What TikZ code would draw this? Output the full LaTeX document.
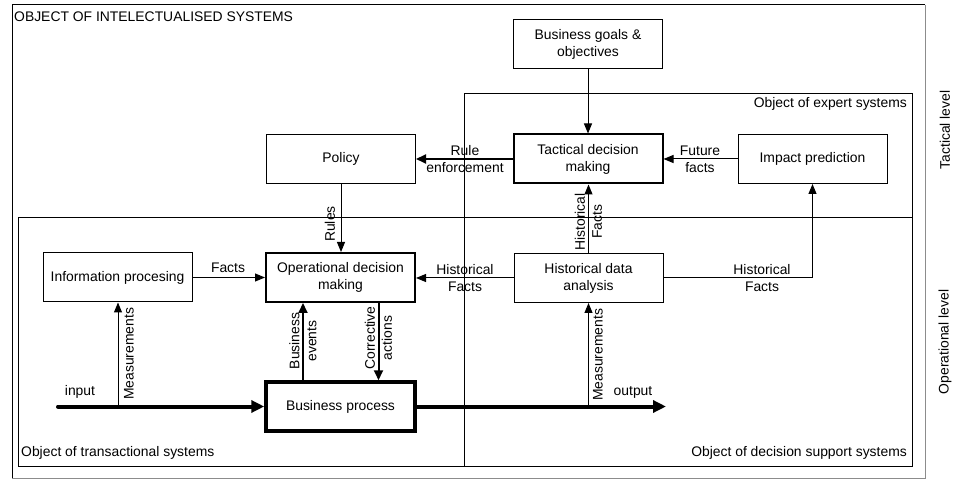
\documentclass[tikz,border=0pt]{standalone}
\usepackage{fontspec}
\setmainfont{Liberation Sans}
\usetikzlibrary{arrows.meta}
\begin{document}
\begin{tikzpicture}[x=1pt,y=-1pt,
  every node/.style={font=\fontsize{13.9}{17}\selectfont, inner sep=0pt},
  box/.style={draw, rectangle, minimum width=149pt, minimum height=49pt, align=center, line width=1pt, inner sep=2pt},
  thickbox/.style={box, line width=2pt},
  heavybox/.style={box, line width=3.5pt},
  conn/.style={line width=1pt, -{Triangle[length=10pt,width=8pt]}},
  connmed/.style={line width=2pt, -{Triangle[length=10pt,width=9pt]}},
  connheavy/.style={line width=4pt, line cap=round, -{Triangle[length=13pt,width=12pt]}},
  frame/.style={line width=1pt}
]
\useasboundingbox (0,0) rectangle (954,481);

% frames
\draw[frame] (12,478) -- (12,5) -- (925,5);
\draw[frame, black!45] (925,5) -- (925,478) -- (12,478);
\draw[frame] (18,218) rectangle (464,466);
\draw[frame] (464,94) rectangle (912,466);
\draw[frame] (464,218) -- (912,218);

% frame labels
\node[anchor=west] (tOuter) at (14,17) {OBJECT OF INTELECTUALISED SYSTEMS};
\node[anchor=east] (tExp) at (907,104) {Object of expert systems};
\node[anchor=west] (tTrans) at (21,453) {Object of transactional systems};
\node[anchor=east] (tDSS) at (907,453) {Object of decision support systems};
\node[rotate=90] (tTac) at (945,130) {Tactical level};
\node[rotate=90] (tOp) at (945,342) {Operational level};

% boxes
\node[box] (goals) at (588,44.5) {Business goals \&\\objectives};
\node[thickbox] (tact) at (588,159) {Tactical decision\\making};
\node[box] (impact) at (812.5,159) {Impact prediction};
\node[box] (policy) at (341,159) {Policy};
\node[box] (info) at (117.5,277.5) {Information procesing};
\node[thickbox] (opdec) at (340.5,277.5) {Operational decision\\making};
\node[heavybox] (bp) at (340.5,406.5) {Business process};
\node[box] (hist) at (588.5,278) {Historical data\\analysis};

% coordinates
\coordinate (inStart) at (58,406.5);
\coordinate (meas1) at (118,406.5);
\coordinate (outEnd) at (666,406.5);
\coordinate (meas2) at (588.5,406.5);

% connectors
\draw[conn] (goals) -- (tact);
\draw[connmed] (tact.west) -- (tact.west -| policy.east);
\draw[conn] (impact.west) -- (tact.east);
\draw[conn] (policy.south) -- (policy.south |- opdec.north);
\draw[conn] (hist.north) -- (hist.north |- tact.south);
\draw[conn] (hist.west) -- (hist.west -| opdec.east);
\draw[conn] (hist.east) -| (impact.south);
\draw[conn] (info.east) -- (info.east -| opdec.west);
\draw[connheavy] (inStart) -- (bp.west);
\draw[conn] (meas1) -- (meas1 |- info.south);
\draw[connmed] ([xshift=-37.5pt]bp.north) -- ([xshift=-37.5pt]opdec.south);
\draw[connmed] ([xshift=38pt]opdec.south) -- ([xshift=38pt]bp.north);
\draw[connheavy] (bp.east) -- (outEnd);
\draw[conn] (meas2) -- (hist.south);

% connector labels
\node[align=center] (lRule) at (465,159) {Rule\\enforcement};
\node[align=center] (lFuture) at (700,159) {Future\\facts};
\node[rotate=90] (lRules) at (330,224) {Rules};
\node[rotate=90, align=center] (lHistV) at (588.5,222) {Historical\\Facts};
\node[align=center] (lHistL) at (465,278) {Historical\\Facts};
\node[align=center] (lHistR) at (762,278) {Historical\\Facts};
\node (lFacts) at (228,268) {Facts};
\node (lInput) at (80,392) {input};
\node (lOutput) at (633,392) {output};
\node[rotate=90] (lMeas1) at (129,354) {Measurements};
\node[rotate=90] (lMeas2) at (598,355) {Measurements};
\node[rotate=90, align=center] (lBev) at (303,341) {Business\\events};
\node[rotate=90, align=center] (lCor) at (378.5,338) {Corrective\\actions};
\end{tikzpicture}
\end{document}
